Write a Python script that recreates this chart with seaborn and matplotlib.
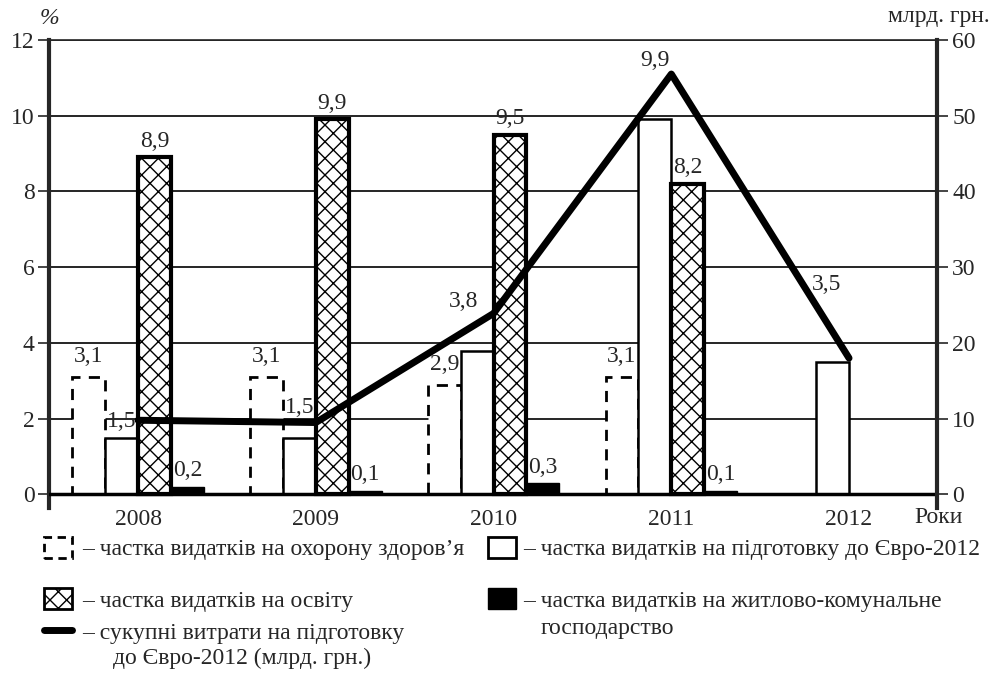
import numpy as np
import pandas as pd
import matplotlib
matplotlib.use('Agg')
import matplotlib.pyplot as plt
import seaborn as sns
from matplotlib.patches import Patch
from matplotlib.lines import Line2D

years = ['2008', '2009', '2010', '2011', '2012']
health = [3.1, 3.1, 2.9, 3.1, None]
euro = [1.5, 1.5, 3.8, 9.9, 3.5]
education = [8.9, 9.9, 9.5, 8.2, None]
housing = [0.2, 0.1, 0.3, 0.1, None]
total_bn = [9.8, 9.5, 23.9, 55.5, 18.0]

series_names = ['health', 'euro', 'education', 'housing']
series_vals = [health, euro, education, housing]

rows = []
for name, vals in zip(series_names, series_vals):
    for yr, v in zip(years, vals):
        if v is not None:
            rows.append({'year': yr, 'series': name, 'value': v})
df = pd.DataFrame(rows)

sns.set_style('ticks')
plt.rcParams['font.family'] = ['Liberation Serif', 'DejaVu Serif']
plt.rcParams['hatch.linewidth'] = 1.0
FS = 17

fig = plt.figure(figsize=(9.98, 6.77), dpi=100)
ax = fig.add_axes([0.0486, 0.250, 0.8903, 0.691])

sns.barplot(data=df, x='year', y='value', hue='series', hue_order=series_names,
            order=years, width=0.74, gap=0, dodge=True, errorbar=None,
            saturation=1, legend=False, ax=ax)

# style each series like the printed chart
styles = {
    'health': dict(facecolor='white', edgecolor='black', linestyle=(0, (4, 3)), linewidth=2),
    'euro': dict(facecolor='white', edgecolor='black', linewidth=1.8),
    'education': dict(facecolor='white', edgecolor='black', hatch='xx', linewidth=3),
    'housing': dict(facecolor='black', edgecolor='black', linewidth=1),
}
for name, cont in zip(series_names, ax.containers):
    for p in cont.patches:
        p.set(**styles[name])

# value labels (comma decimals)
euro_shift = [(0, 0), (0, 10), (-10, 24), (0, 31), (-4, 44)]
for name, cont, vals in zip(series_names, ax.containers, series_vals):
    vals = [v for v in vals if v is not None]
    for i, (p, v) in enumerate(zip(cont.patches, vals)):
        dx, dy = 0, 4
        if name == 'health':
            dy = 7
        if name == 'euro':
            dx, dy = euro_shift[i][0], 4 + euro_shift[i][1]
        ax.annotate(f'{v:.1f}'.replace('.', ','), (p.get_x() + p.get_width() / 2, p.get_height()),
                    xytext=(dx, dy), textcoords='offset points', ha='center', va='bottom',
                    fontsize=FS)

ax.set_ylim(-0.35, 12)
ax.set_yticks(np.arange(0, 13, 2))
ax.set_xlim(-0.504, 4.495)
ax.set_xlabel('')
ax.set_ylabel('')
ax.yaxis.grid(True, color='black', linewidth=1.2)
ax.set_axisbelow(True)
ax.axhline(0, color='black', linewidth=2.5, zorder=3)
ax.tick_params(axis='y', direction='out', length=8, width=1.2, labelsize=FS, pad=2)
ax.tick_params(axis='x', length=0, labelsize=FS, pad=1)
for s in ['right', 'bottom']:
    ax.spines[s].set_visible(False)
ax.spines['left'].set_linewidth(3)
ax.spines['top'].set_linewidth(1.2)

ax2 = ax.twinx()
sns.lineplot(x=np.arange(len(years)), y=total_bn, color='black', linewidth=5, ax=ax2)
ax2.set_ylim(-1.75, 60)
ax2.set_yticks(np.arange(0, 61, 10))
ax2.set_xlim(-0.504, 4.495)
ax2.set_ylabel('')
ax2.tick_params(axis='y', direction='out', length=8, width=1.2, labelsize=FS, pad=3)
for s in ['left', 'top', 'bottom']:
    ax2.spines[s].set_visible(False)
ax2.spines['right'].set_linewidth(3)

fig.text(0.040, 0.972, '%', fontsize=FS, style='italic', va='center')
fig.text(0.992, 0.975, 'млрд. грн.', fontsize=FS, ha='right', va='center')
fig.text(0.916, 0.235, 'Роки', fontsize=FS, va='center')

h_health = Patch(facecolor='white', edgecolor='black', linestyle=(0, (3, 2)), linewidth=2)
h_euro = Patch(facecolor='white', edgecolor='black', linewidth=2)
h_edu = Patch(facecolor='white', edgecolor='black', hatch='xx', linewidth=2)
h_house = Patch(facecolor='black', edgecolor='black')
h_line = Line2D([], [], color='black', linewidth=5)


def add_key(handle, text, x, y, pad):
    fig.legend([handle], [text], loc='center left', bbox_to_anchor=(x, y),
               frameon=False, fontsize=FS, handlelength=1.2, handleheight=1.0,
               handletextpad=pad, borderpad=0, borderaxespad=0)


add_key(h_health, '– частка видатків на охорону здоров’я', 0.044, 0.190, 0.4)
add_key(h_edu, '– частка видатків на освіту', 0.044, 0.114, 0.4)
add_key(h_line, '– сукупні витрати на підготовку', 0.044, 0.066, 0.4)
fig.text(0.113, 0.028, 'до Євро-2012 (млрд. грн.)', fontsize=FS, va='center')
add_key(h_euro, '– частка видатків на підготовку до Євро-2012', 0.489, 0.190, 0.3)
add_key(h_house, '– частка видатків на житлово-комунальне', 0.489, 0.114, 0.3)
fig.text(0.542, 0.072, 'господарство', fontsize=FS, va='center')

fig.savefig('out.png', dpi=100)
